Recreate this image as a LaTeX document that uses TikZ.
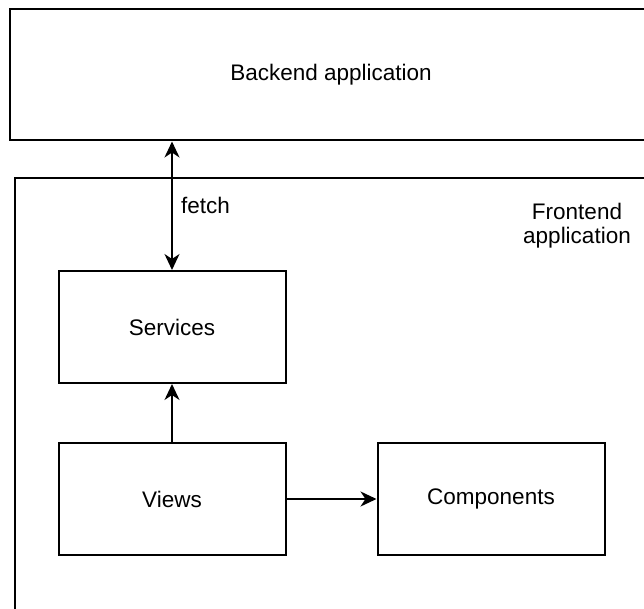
\documentclass[tikz,border=0pt]{standalone}
\usepackage{fontspec}
\setmainfont{Liberation Sans}
\usetikzlibrary{arrows.meta,positioning}

\tikzset{
  block/.style={draw,rectangle,line width=2pt,minimum width=227pt,minimum height=112pt},
  link/.style={->,line width=2pt},
}

\begin{document}
\begin{tikzpicture}
            [x=1pt,y=-1pt,>={Stealth[length=16pt,width=15pt,inset=5pt]},
             font=\fontsize{22.5}{24}\selectfont]

            \useasboundingbox (0,0) rectangle (644,609);
            \clip (0,0) rectangle (644,609);

            % outer boxes, running off the right and bottom
            \node (backend) [block,minimum width=642pt,minimum height=131pt] at (331,75) {Backend application};
            \node (frontend) [block,anchor=north west,minimum width=660pt,minimum height=460pt] at (14,177) {};
            \node (frontlabel) [align=center] at (577,226) {Frontend\\application};

            % inner parts
            \node (services) [block] at (172,327) {Services};
            \node (views) [block,below=58pt of services] {Views};
            \node (components) [block,right=90pt of views] {Components};

            \draw [link,<->] (services.north) -- node [right,inner sep=8pt] {fetch} (services.north |- backend.south);
            \draw [link] (views) -- (services);
            \draw [link] (views) -- (components);
        \end{tikzpicture}
\end{document}
